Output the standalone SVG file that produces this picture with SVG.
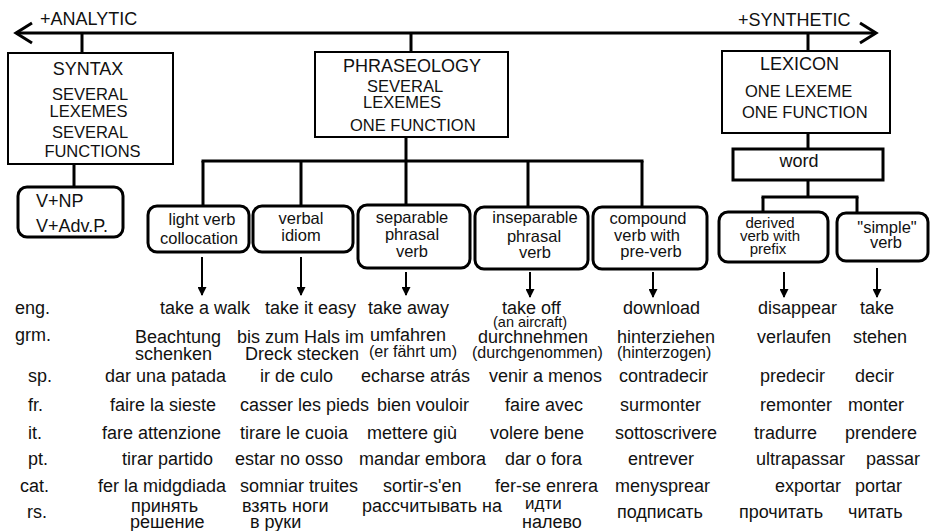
<svg xmlns="http://www.w3.org/2000/svg" width="931" height="531" viewBox="0 0 931 531">
<defs>
<marker id="ah" markerUnits="userSpaceOnUse" markerWidth="9" markerHeight="9" refX="8" refY="4.5" orient="auto"><path d="M0,0 L9,4.5 L0,9 z" fill="#000"/></marker>
<style>
text{font-family:"Liberation Sans",Arial,sans-serif;fill:#111}
.h{font-size:18px}
.s{font-size:16.5px}
.n{font-size:16.5px;text-anchor:middle}
.d{font-size:15px;text-anchor:middle}
.t{font-size:18px}
.p{font-size:16px}
.m{text-anchor:middle}
.box{fill:#fff;stroke:#000;stroke-width:2}
.rbox{fill:#fff;stroke:#000;stroke-width:3}
.c{stroke:#000;stroke-width:3;fill:none}
.a{stroke:#000;stroke-width:2;fill:none;marker-end:url(#ah)}
</style>
</defs>
<rect width="931" height="531" fill="#fff"/>

<g id="connectors">
<line class="c" x1="16" y1="33" x2="876" y2="33"/>
<polyline class="c" points="32,23 16,33 32,43"/>
<polyline class="c" points="860,23 876,33 860,43"/>
<line class="c" x1="82" y1="33" x2="82" y2="53"/>
<line class="c" x1="74" y1="164" x2="74" y2="187"/>
<line class="c" x1="411" y1="33" x2="411" y2="52"/>
<line class="c" x1="406" y1="137" x2="406" y2="161"/>
<line class="c" x1="201.5" y1="161" x2="643.5" y2="161"/>
<line class="c" x1="203" y1="161" x2="203" y2="206"/>
<line class="c" x1="301" y1="161" x2="301" y2="206"/>
<line class="c" x1="406" y1="161" x2="406" y2="205"/>
<line class="c" x1="528" y1="161" x2="528" y2="207"/>
<line class="c" x1="642" y1="161" x2="642" y2="207"/>
<line class="c" x1="808" y1="33" x2="808" y2="51"/>
<line class="c" x1="808" y1="133" x2="808" y2="149"/>
<line class="c" x1="808" y1="180" x2="808" y2="197"/>
<line class="c" x1="761.5" y1="197" x2="858.5" y2="197"/>
<line class="c" x1="763" y1="197" x2="763" y2="212"/>
<line class="c" x1="857" y1="197" x2="857" y2="213"/>
<line class="a" x1="202" y1="257" x2="202" y2="295"/>
<line class="a" x1="301" y1="257" x2="301" y2="295"/>
<line class="a" x1="406" y1="272" x2="406" y2="295"/>
<line class="a" x1="530" y1="272" x2="530" y2="297"/>
<line class="a" x1="653" y1="272" x2="653" y2="297"/>
<line class="a" x1="784" y1="272" x2="784" y2="297"/>
<line class="a" x1="877" y1="268" x2="877" y2="297"/>
</g>

<g id="axis-labels">
<text class="h" x="40" y="25">+ANALYTIC</text>
<text class="h" x="738" y="26">+SYNTHETIC</text>
</g>

<g id="syntax">
<rect class="box" x="8" y="53" width="165" height="111"/>
<text class="h m" x="88" y="75">SYNTAX</text>
<text class="s m" x="90" y="100">SEVERAL</text>
<text class="s m" x="88.5" y="117">LEXEMES</text>
<text class="s m" x="90" y="138">SEVERAL</text>
<text class="s m" x="92.5" y="157">FUNCTIONS</text>
</g>

<g id="phraseology">
<rect class="box" x="315" y="52" width="193" height="85"/>
<text class="h" x="343" y="72">PHRASEOLOGY</text>
<text class="s" x="367" y="92">SEVERAL</text>
<text class="s" x="363" y="108">LEXEMES</text>
<text class="s" x="350" y="131">ONE FUNCTION</text>
</g>

<g id="lexicon">
<rect class="box" x="722" y="51" width="168" height="82"/>
<text class="h" x="760" y="70">LEXICON</text>
<text class="s" x="745" y="97">ONE LEXEME</text>
<text class="s" x="742" y="118">ONE FUNCTION</text>
</g>

<g id="word">
<rect class="rbox" x="733" y="149" width="150" height="31"/>
<text class="h m" x="799" y="167">word</text>
</g>

<g id="vnp">
<rect class="rbox" x="18" y="187" width="105" height="50" rx="9"/>
<text class="h" x="36" y="207">V+NP</text>
<text class="h" x="36" y="232">V+Adv.P.</text>
</g>

<g id="light-verb">
<rect class="rbox" x="148" y="206" width="101" height="46" rx="9"/>
<text class="n" x="202" y="225">light verb</text>
<text class="n" x="199" y="244">collocation</text>
</g>

<g id="verbal-idiom">
<rect class="rbox" x="253" y="206" width="100" height="46" rx="9"/>
<text class="n" x="301" y="224">verbal</text>
<text class="n" x="301" y="241">idiom</text>
</g>

<g id="separable">
<rect class="rbox" x="358" y="205" width="112" height="63" rx="9"/>
<text class="n" x="412" y="223">separable</text>
<text class="n" x="412" y="240">phrasal</text>
<text class="n" x="412" y="257">verb</text>
</g>

<g id="inseparable">
<rect class="rbox" x="475" y="207" width="113" height="62" rx="9"/>
<text class="n" x="535" y="223">inseparable</text>
<text class="n" x="534" y="242">phrasal</text>
<text class="n" x="535" y="258">verb</text>
</g>

<g id="compound">
<rect class="rbox" x="593" y="207" width="114" height="62" rx="9"/>
<text class="n" x="648" y="224">compound</text>
<text class="n" x="647" y="241">verb with</text>
<text class="n" x="651" y="257">pre-verb</text>
</g>

<g id="derived">
<rect class="rbox" x="719" y="212" width="109" height="50" rx="9"/>
<text class="d" x="770" y="228">derived</text>
<text class="d" x="770" y="241">verb with</text>
<text class="d" x="768" y="254">prefix</text>
</g>

<g id="simple">
<rect class="rbox" x="837" y="213" width="91" height="48" rx="9"/>
<text class="n" x="887" y="233">"simple"</text>
<text class="n" x="886" y="248">verb</text>
</g>

<g id="table">
<text class="t" x="15" y="314">eng.</text>
<text class="t" x="160" y="314">take a walk</text>
<text class="t" x="265" y="314">take it easy</text>
<text class="t" x="368" y="314">take away</text>
<text class="t" x="502" y="314">take off</text>
<text class="t" x="623" y="314">download</text>
<text class="t" x="758" y="314">disappear</text>
<text class="t" x="860" y="314">take</text>
<text style="font-size:14.5px" x="493" y="327">(an aircraft)</text>

<text class="t" x="15" y="341">grm.</text>
<text class="t" x="135" y="343">Beachtung</text>
<text class="t" x="135" y="360">schenken</text>
<text class="t" x="237" y="343">bis zum Hals im</text>
<text class="t" x="245" y="360">Dreck stecken</text>
<text class="t" x="370" y="341">umfahren</text>
<text class="p" x="369" y="357">(er fährt um)</text>
<text class="t" x="478" y="343">durchnehmen</text>
<text class="p" x="472" y="358">(durchgenommen)</text>
<text class="t" x="617" y="343">hinterziehen</text>
<text class="p" x="617" y="358">(hinterzogen)</text>
<text class="t" x="757" y="343">verlaufen</text>
<text class="t" x="853" y="343">stehen</text>

<text class="t" x="28" y="382">sp.</text>
<text class="t" x="105" y="382">dar una patada</text>
<text class="t" x="260" y="382">ir de culo</text>
<text class="t" x="361" y="382">echarse atrás</text>
<text class="t" x="489" y="382">venir a menos</text>
<text class="t" x="619" y="382">contradecir</text>
<text class="t" x="760" y="382">predecir</text>
<text class="t" x="855" y="382">decir</text>

<text class="t" x="28" y="411">fr.</text>
<text class="t" x="110" y="411">faire la sieste</text>
<text class="t" x="240" y="411">casser les pieds</text>
<text class="t" x="377" y="411">bien vouloir</text>
<text class="t" x="505" y="411">faire avec</text>
<text class="t" x="620" y="411">surmonter</text>
<text class="t" x="760" y="411">remonter</text>
<text class="t" x="848" y="411">monter</text>

<text class="t" x="28" y="439">it.</text>
<text class="t" x="102" y="439">fare attenzione</text>
<text class="t" x="240" y="439">tirare le cuoia</text>
<text class="t" x="367" y="439">mettere giù</text>
<text class="t" x="490" y="439">volere bene</text>
<text class="t" x="615" y="439">sottoscrivere</text>
<text class="t" x="754" y="439">tradurre</text>
<text class="t" x="845" y="439">prendere</text>

<text class="t" x="28" y="465">pt.</text>
<text class="t" x="122" y="465">tirar partido</text>
<text class="t" x="235" y="465">estar no osso</text>
<text class="t" x="359" y="465">mandar embora</text>
<text class="t" x="505" y="465">dar o fora</text>
<text class="t" x="628" y="465">entrever</text>
<text class="t" x="756" y="465">ultrapassar</text>
<text class="t" x="866" y="465">passar</text>

<text class="t" x="20" y="492">cat.</text>
<text class="t" x="98" y="492">fer la midgdiada</text>
<text class="t" x="240" y="492">somniar truites</text>
<text class="t" x="383" y="492">sortir-s'en</text>
<text class="t" x="495" y="492">fer-se enrera</text>
<text class="t" x="615" y="492">menysprear</text>
<text class="t" x="775" y="492">exportar</text>
<text class="t" x="855" y="492">portar</text>

<text class="t" x="27" y="518">rs.</text>
<text class="t" x="131" y="512">принять</text>
<text class="t" x="130" y="528">решение</text>
<text class="t" x="242" y="512">взять ноги</text>
<text class="t" x="250" y="528">в руки</text>
<text class="t" x="362" y="512">рассчитывать на</text>
<text style="font-size:17px" x="525" y="509">идти</text>
<text class="t" x="522" y="528">налево</text>
<text class="t" x="617" y="518">подписать</text>
<text class="t" x="739" y="518">прочитать</text>
<text class="t" x="848" y="518">читать</text>
</g>
</svg>
